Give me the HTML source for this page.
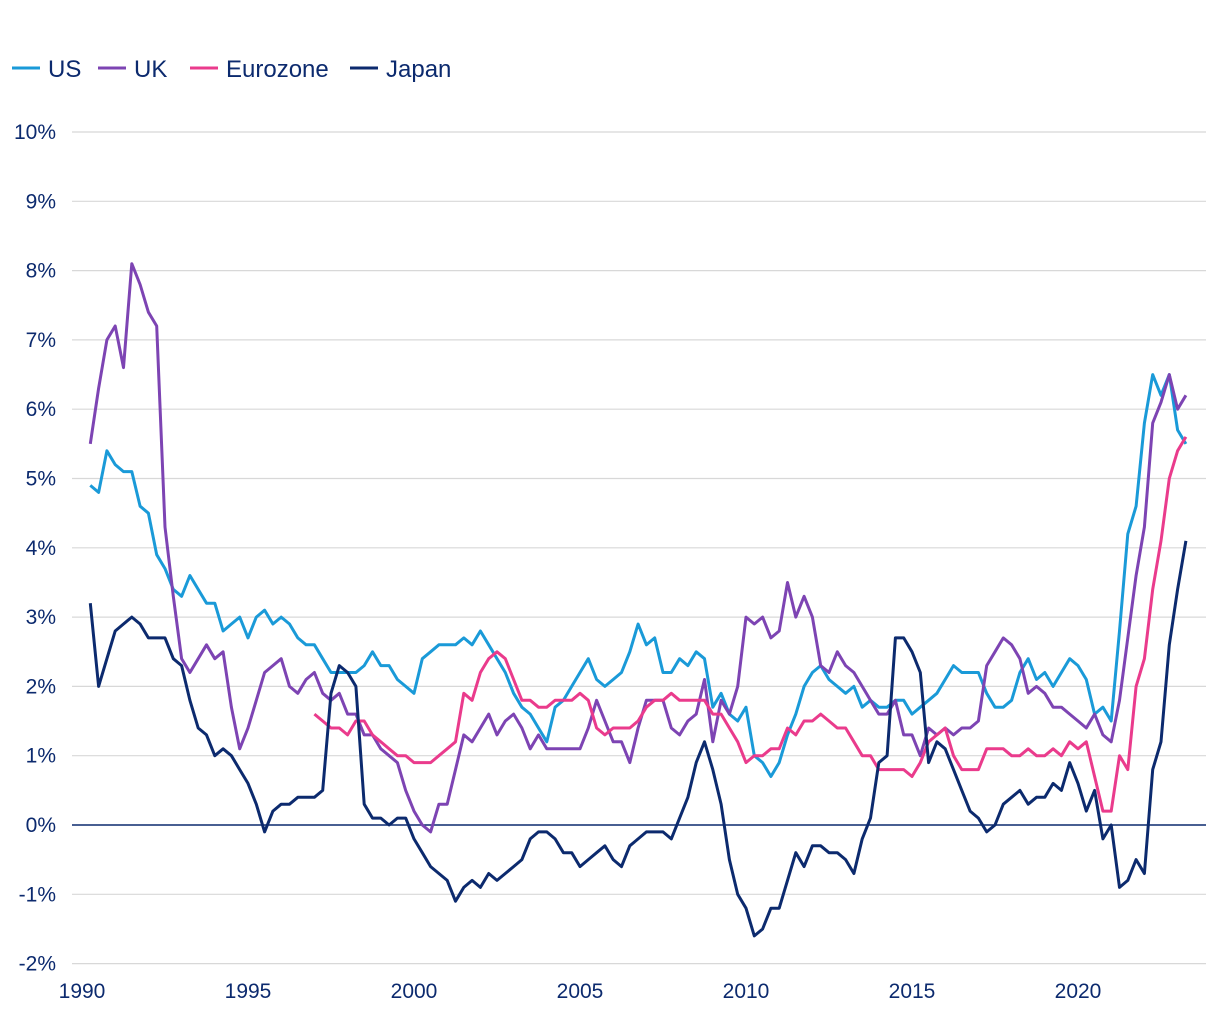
<!DOCTYPE html>
<html><head><meta charset="utf-8">
<style>
html,body{margin:0;padding:0;background:#fff;}
svg{display:block;font-family:"Liberation Sans",sans-serif;}
</style></head>
<body>
<svg id="chart" width="1220" height="1020" viewBox="0 0 1220 1020" xmlns="http://www.w3.org/2000/svg">
  <g id="legend"></g>
  <g id="grid"></g>
  <g id="yaxis"></g>
  <g id="xaxis"></g>
  <g id="series"></g>
</svg>
<script>
// Quarterly data, index q => year 1990 + q/4
const startYear = 1990;
const yTicks = [-2,-1,0,1,2,3,4,5,6,7,8,9,10];
const xTicks = [1990,1995,2000,2005,2010,2015,2020];
const seriesNames = ["US","UK","Eurozone","Japan"];
const seriesColors = ["#1a9ad8","#7d44b3","#ea3b8c","#0c2a6e"];
const usStart = 1;
const usValues = [4.9,4.8,5.4,5.2,5.1,5.1,4.6,4.5,3.9,3.7,3.4,3.3,3.6,3.4,3.2,3.2,2.8,2.9,3.0,2.7,3.0,3.1,2.9,3.0,2.9,2.7,2.6,2.6,2.4,2.2,2.2,2.2,2.2,2.3,2.5,2.3,2.3,2.1,2.0,1.9,2.4,2.5,2.6,2.6,2.6,2.7,2.6,2.8,2.6,2.4,2.2,1.9,1.7,1.6,1.4,1.2,1.7,1.8,2.0,2.2,2.4,2.1,2.0,2.1,2.2,2.5,2.9,2.6,2.7,2.2,2.2,2.4,2.3,2.5,2.4,1.7,1.9,1.6,1.5,1.7,1.0,0.9,0.7,0.9,1.3,1.6,2.0,2.2,2.3,2.1,2.0,1.9,2.0,1.7,1.8,1.7,1.7,1.8,1.8,1.6,1.7,1.8,1.9,2.1,2.3,2.2,2.2,2.2,1.9,1.7,1.7,1.8,2.2,2.4,2.1,2.2,2.0,2.2,2.4,2.3,2.1,1.6,1.7,1.5,2.8,4.2,4.6,5.8,6.5,6.2,6.5,5.7,5.5];
const ukStart = 1;
const ukValues = [5.5,6.3,7.0,7.2,6.6,8.1,7.8,7.4,7.2,4.3,3.3,2.4,2.2,2.4,2.6,2.4,2.5,1.7,1.1,1.4,1.8,2.2,2.3,2.4,2.0,1.9,2.1,2.2,1.9,1.8,1.9,1.6,1.6,1.3,1.3,1.1,1.0,0.9,0.5,0.2,0.0,-0.1,0.3,0.3,0.8,1.3,1.2,1.4,1.6,1.3,1.5,1.6,1.4,1.1,1.3,1.1,1.1,1.1,1.1,1.1,1.4,1.8,1.5,1.2,1.2,0.9,1.4,1.8,1.8,1.8,1.4,1.3,1.5,1.6,2.1,1.2,1.8,1.6,2.0,3.0,2.9,3.0,2.7,2.8,3.5,3.0,3.3,3.0,2.3,2.2,2.5,2.3,2.2,2.0,1.8,1.6,1.6,1.8,1.3,1.3,1.0,1.4,1.3,1.4,1.3,1.4,1.4,1.5,2.3,2.5,2.7,2.6,2.4,1.9,2.0,1.9,1.7,1.7,1.6,1.5,1.4,1.6,1.3,1.2,1.8,2.7,3.6,4.3,5.8,6.1,6.5,6.0,6.2];
const ezStart = 28;
const ezValues = [1.6,1.5,1.4,1.4,1.3,1.5,1.5,1.3,1.2,1.1,1.0,1.0,0.9,0.9,0.9,1.0,1.1,1.2,1.9,1.8,2.2,2.4,2.5,2.4,2.1,1.8,1.8,1.7,1.7,1.8,1.8,1.8,1.9,1.8,1.4,1.3,1.4,1.4,1.4,1.5,1.7,1.8,1.8,1.9,1.8,1.8,1.8,1.8,1.6,1.6,1.4,1.2,0.9,1.0,1.0,1.1,1.1,1.4,1.3,1.5,1.5,1.6,1.5,1.4,1.4,1.2,1.0,1.0,0.8,0.8,0.8,0.8,0.7,0.9,1.2,1.3,1.4,1.0,0.8,0.8,0.8,1.1,1.1,1.1,1.0,1.0,1.1,1.0,1.0,1.1,1.0,1.2,1.1,1.2,0.7,0.2,0.2,1.0,0.8,2.0,2.4,3.4,4.1,5.0,5.4,5.6];
const jpStart = 1;
const jpValues = [3.2,2.0,2.4,2.8,2.9,3.0,2.9,2.7,2.7,2.7,2.4,2.3,1.8,1.4,1.3,1.0,1.1,1.0,0.8,0.6,0.3,-0.1,0.2,0.3,0.3,0.4,0.4,0.4,0.5,1.9,2.3,2.2,2.0,0.3,0.1,0.1,0.0,0.1,0.1,-0.2,-0.4,-0.6,-0.7,-0.8,-1.1,-0.9,-0.8,-0.9,-0.7,-0.8,-0.7,-0.6,-0.5,-0.2,-0.1,-0.1,-0.2,-0.4,-0.4,-0.6,-0.5,-0.4,-0.3,-0.5,-0.6,-0.3,-0.2,-0.1,-0.1,-0.1,-0.2,0.1,0.4,0.9,1.2,0.8,0.3,-0.5,-1.0,-1.2,-1.6,-1.5,-1.2,-1.2,-0.8,-0.4,-0.6,-0.3,-0.3,-0.4,-0.4,-0.5,-0.7,-0.2,0.1,0.9,1.0,2.7,2.7,2.5,2.2,0.9,1.2,1.1,0.8,0.5,0.2,0.1,-0.1,0.0,0.3,0.4,0.5,0.3,0.4,0.4,0.6,0.5,0.9,0.6,0.2,0.5,-0.2,0.0,-0.9,-0.8,-0.5,-0.7,0.8,1.2,2.6,3.4,4.1];

const NS="http://www.w3.org/2000/svg";
const X0=82, PXY=33.2, Y0=825, PXV=69.3;
function xScale(year){return X0+(year-startYear)*PXY;}
function yScale(v){return Y0-v*PXV;}
function mk(tag,attrs,parent){const e=document.createElementNS(NS,tag);for(const k in attrs)e.setAttribute(k,attrs[k]);parent.appendChild(e);return e;}

const grid=document.getElementById('grid'), yax=document.getElementById('yaxis'), xax=document.getElementById('xaxis');
yTicks.forEach(t=>{
  const l=mk('line',{x1:72,x2:1206,y1:yScale(t),y2:yScale(t),stroke:t===0?'#0c2a6e':'#d8d8d8','stroke-width':t===0?1.5:1.2},grid);
  
  
  const tx=mk('text',{x:56,y:yScale(t)+7,'text-anchor':'end','font-size':21,fill:'#0c2a6e'},yax);
  tx.textContent=t+'%';
  
  
});
xTicks.forEach(t=>{
  const tx=mk('text',{x:xScale(t),y:998,'text-anchor':'middle','font-size':21,fill:'#0c2a6e'},xax);
  tx.textContent=t;
  
  
});

const ser=document.getElementById('series');
const allSeries=[[usStart,usValues],[ukStart,ukValues],[ezStart,ezValues],[jpStart,jpValues]];
allSeries.forEach((s,i)=>{
  const d=s[1].map((v,k)=>(k?'L':'M')+xScale(startYear+(s[0]+k)/4).toFixed(1)+','+yScale(v).toFixed(1)).join('');
  const p=mk('path',{d:d,fill:'none',stroke:seriesColors[i],'stroke-width':3,'stroke-linejoin':'round'},ser);
  
  
});

const leg=document.getElementById('legend');
const legX=[12,98,190,350];
seriesNames.forEach((n,i)=>{
  const g=mk('g',{},leg);
  
  
  mk('line',{x1:legX[i],x2:legX[i]+28,y1:68,y2:68,stroke:seriesColors[i],'stroke-width':3},g);
  const t=mk('text',{x:legX[i]+36,y:77,'font-size':24,fill:'#0c2a6e'},g);
  t.textContent=n;
});
</script>
</body></html>
